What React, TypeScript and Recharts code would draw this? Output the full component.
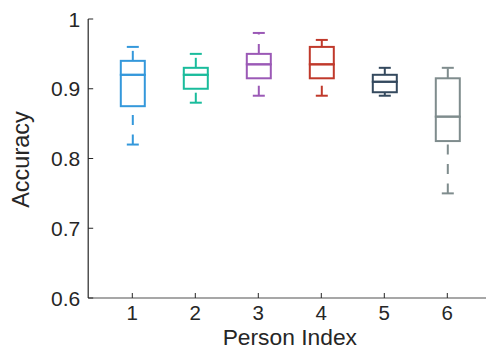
import React from 'react';
import { ComposedChart, Bar, XAxis, YAxis, Label } from 'recharts';

// Person indices (categories)
const PERSONS = [1, 2, 3, 4, 5, 6];
// Box plot statistics per person
const MINS = [0.82, 0.88, 0.89, 0.89, 0.89, 0.75];
const Q1S = [0.875, 0.9, 0.915, 0.915, 0.895, 0.825];
const MEDIANS = [0.92, 0.92, 0.935, 0.935, 0.91, 0.86];
const Q3S = [0.94, 0.93, 0.95, 0.96, 0.92, 0.915];
const MAXS = [0.96, 0.95, 0.98, 0.97, 0.93, 0.93];
// Tick labels
const X_TICKS = [1, 2, 3, 4, 5, 6];
const Y_TICKS = [0.6, 0.7, 0.8, 0.9, 1];

const COLORS = ['#3498db', '#1abc9c', '#9b59b6', '#c0392b', '#34495e', '#7f8c8d'];
const FONT = '"Liberation Sans", Arial, Helvetica, sans-serif';
const TEXT = '#262626';
const SW = 2;
const CAP = 6;
const DASH = '10 9.5';

const data = PERSONS.map((p, i) => ({
  person: p,
  base: MINS[i],
  lw: Q1S[i] - MINS[i],
  lb: MEDIANS[i] - Q1S[i],
  ub: Q3S[i] - MEDIANS[i],
  uw: MAXS[i] - Q3S[i],
}));

const Hidden = () => null;

const LowerWhisker = (props: any) => {
  const { x, y, width, height, index } = props;
  const c = COLORS[index];
  const cx = x + width / 2;
  return (
    <g>
      <line x1={cx} y1={y + height} x2={cx} y2={y} stroke={c} strokeWidth={SW} strokeDasharray={DASH} />
      <line x1={cx - CAP} y1={y + height} x2={cx + CAP} y2={y + height} stroke={c} strokeWidth={SW} />
    </g>
  );
};

const UpperWhisker = (props: any) => {
  const { x, y, width, height, index } = props;
  const c = COLORS[index];
  const cx = x + width / 2;
  return (
    <g>
      <line x1={cx} y1={y + height} x2={cx} y2={y} stroke={c} strokeWidth={SW} strokeDasharray={DASH} />
      <line x1={cx - CAP} y1={y} x2={cx + CAP} y2={y} stroke={c} strokeWidth={SW} />
    </g>
  );
};

const BoxHalf = (props: any) => {
  const { x, y, width, height, index } = props;
  const c = COLORS[index];
  return <rect x={x} y={y} width={width} height={height} fill="none" stroke={c} strokeWidth={SW} />;
};

const BottomTick = (props: any) => {
  const { x, y, payload } = props;
  return (
    <g>
      <line x1={x} y1={y} x2={x} y2={y - 5} stroke={TEXT} strokeWidth={1} />
      <text x={x} y={y + 22} textAnchor="middle" fill={TEXT} fontSize={20.5} fontFamily={FONT}>
        {payload.value}
      </text>
    </g>
  );
};

const TopTick = (props: any) => {
  const { x, y } = props;
  return <line x1={x} y1={y} x2={x} y2={y + 5} stroke={TEXT} strokeWidth={1} />;
};

const LeftTick = (props: any) => {
  const { x, y, payload } = props;
  return (
    <g>
      <line x1={x} y1={y} x2={x + 5} y2={y} stroke={TEXT} strokeWidth={1} />
      <text x={x - 8} y={y + 7.5} textAnchor="end" fill={TEXT} fontSize={21} fontFamily={FONT}>
        {payload.value}
      </text>
    </g>
  );
};

export default function App() {
  return (
    <div style={{ position: 'absolute', left: 0, top: 0, width: 486, height: 350, overflow: 'hidden', background: '#fff' }}>
      <ComposedChart
        width={500}
        height={350}
        data={data}
        margin={{ top: 19, right: 8.6, bottom: 0, left: 0 }}
        barSize={24}
      >
        <XAxis
          xAxisId="top"
          orientation="top"
          dataKey="person"
          type="number"
          domain={[0.3, 6.7]}
          ticks={X_TICKS}
          height={0}
          tickSize={0}
          tickMargin={0}
          tickLine={false}
          tick={<TopTick />}
          axisLine={{ stroke: TEXT, strokeWidth: 1.2 }}
        />
        <XAxis
          dataKey="person"
          type="number"
          domain={[0.3, 6.7]}
          ticks={X_TICKS}
          height={52}
          tickSize={0}
          tickMargin={0}
          tickLine={false}
          tick={<BottomTick />}
          axisLine={{ stroke: '#8a8a8a', strokeWidth: 1.6 }}
          interval={0}
        >
          <Label
            content={(p: any) => {
              const vb = p.viewBox;
              return (
                <text x={vb.x + vb.width / 2} y={345} textAnchor="middle" fill={TEXT} fontSize={22.8} fontFamily={FONT}>
                  Person Index
                </text>
              );
            }}
          />
        </XAxis>
        <YAxis
          type="number"
          domain={[0.6, 1]}
          ticks={Y_TICKS}
          allowDataOverflow
          width={88.2}
          tickSize={0}
          tickMargin={0}
          tickLine={false}
          tick={<LeftTick />}
          axisLine={{ stroke: TEXT, strokeWidth: 1.2 }}
          interval={0}
        >
          <Label
            content={(p: any) => {
              const vb = p.viewBox;
              const cy = vb.y + vb.height / 2 + 1;
              return (
                <text x={29} y={cy} transform={`rotate(-90, 29, ${cy})`} textAnchor="middle" fill={TEXT} fontSize={23.5} fontFamily={FONT}>
                  Accuracy
                </text>
              );
            }}
          />
        </YAxis>
        <Bar dataKey="base" stackId="s" shape={<Hidden />} isAnimationActive={false} />
        <Bar dataKey="lw" stackId="s" shape={<LowerWhisker />} isAnimationActive={false} />
        <Bar dataKey="lb" stackId="s" shape={<BoxHalf />} isAnimationActive={false} />
        <Bar dataKey="ub" stackId="s" shape={<BoxHalf />} isAnimationActive={false} />
        <Bar dataKey="uw" stackId="s" shape={<UpperWhisker />} isAnimationActive={false} />
      </ComposedChart>
    </div>
  );
}
